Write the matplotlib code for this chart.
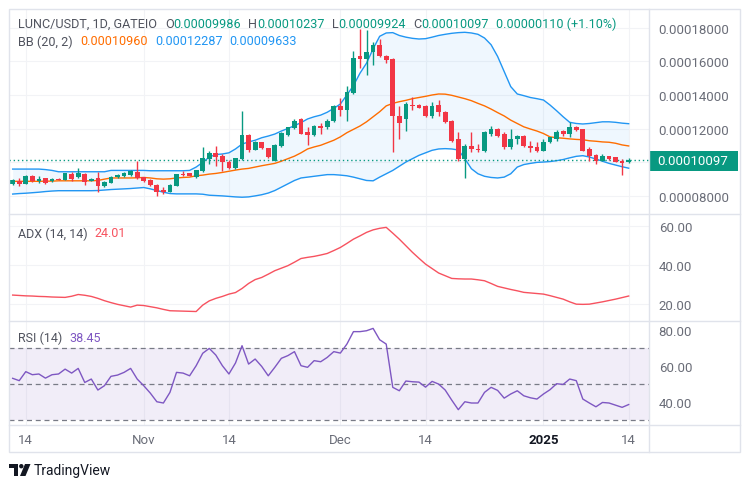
import matplotlib
matplotlib.use('Agg')
import matplotlib.pyplot as plt
import matplotlib.dates as mdates
from matplotlib.patches import Rectangle, Circle, Polygon
from matplotlib.lines import Line2D
import numpy as np
import pandas as pd

plt.rcParams['font.family'] = ['Roboto', 'DejaVu Sans']

# ---- data (prices in units of 1e-5 USDT) ----
dates = pd.date_range('2024-10-12', '2025-01-14', freq='D')

opens = [8.69, 8.88, 8.69, 9.15, 8.88, 9.02, 8.85, 9.00, 8.95, 9.30,
         9.09, 9.30, 8.88, 9.03, 8.55, 8.75, 9.10, 9.15, 9.20, 9.43,
         9.09, 8.95, 8.65, 8.35, 8.23, 8.60, 9.30, 9.32, 9.09, 9.48,
         10.18, 10.52, 10.38, 10.02, 9.64, 10.20, 11.60, 10.74, 11.18, 10.82,
         10.08, 10.97, 11.60, 12.02, 12.57, 11.80, 11.60, 12.15, 12.07, 12.47,
         13.32, 13.12, 14.12, 16.30, 16.15, 16.55, 16.96, 16.30, 16.14, 12.77,
         12.56, 13.40, 13.40, 13.32, 12.77, 13.40, 13.00, 12.47, 11.37, 10.18,
         10.97, 10.80, 10.68, 11.70, 12.00, 11.67, 10.88, 11.35, 11.53, 10.97,
         10.88, 10.68, 11.20, 11.37, 11.87, 11.67, 12.10, 11.97, 10.78, 10.42,
         10.08, 10.34, 10.28, 10.08, 9.986]
highs = [8.97, 9.03, 9.20, 9.20, 9.18, 9.05, 9.05, 9.02, 9.36, 9.43,
         9.63, 9.33, 9.02, 9.43, 8.86, 9.15, 9.30, 9.38, 9.55, 10.08,
         9.10, 8.97, 8.67, 8.49, 8.67, 9.30, 9.48, 9.35, 9.55, 10.88,
         10.68, 10.97, 10.48, 10.10, 10.25, 13.06, 11.65, 11.25, 11.22, 10.85,
         11.05, 11.80, 12.10, 12.55, 12.60, 12.07, 12.20, 12.30, 12.55, 13.40,
         13.85, 14.56, 16.65, 17.95, 17.90, 17.16, 17.33, 16.40, 16.18, 13.36,
         13.56, 13.90, 13.45, 13.38, 13.60, 13.70, 13.05, 12.50, 11.80, 11.07,
         11.80, 11.07, 11.87, 12.17, 12.05, 11.77, 12.00, 11.60, 11.60, 11.27,
         11.18, 11.37, 11.50, 11.93, 11.93, 12.40, 12.17, 12.00, 10.88, 10.48,
         10.48, 10.38, 10.32, 10.18, 10.237]
lows = [8.65, 8.55, 8.67, 8.82, 8.75, 8.70, 8.82, 8.93, 8.90, 8.88,
        9.03, 8.62, 8.85, 8.20, 8.50, 8.72, 9.05, 9.12, 9.15, 9.00,
        8.83, 8.60, 7.99, 8.09, 8.20, 8.58, 9.15, 9.15, 9.07, 9.38,
        9.88, 9.78, 9.48, 9.60, 9.60, 10.15, 10.60, 10.70, 10.78, 10.25,
        10.05, 10.90, 11.55, 11.98, 11.65, 11.00, 11.55, 11.70, 12.00, 12.40,
        12.75, 12.47, 14.05, 15.60, 15.20, 15.80, 16.27, 15.90, 10.62, 11.40,
        11.87, 13.12, 13.20, 12.70, 12.60, 12.77, 12.30, 11.20, 10.08, 9.03,
        10.60, 10.58, 10.62, 11.57, 11.50, 10.78, 10.78, 11.05, 10.90, 10.58,
        10.58, 10.65, 11.15, 11.27, 11.55, 11.47, 11.87, 10.65, 10.08, 9.88,
        10.04, 10.12, 9.98, 9.22, 9.924]
closes = [8.93, 8.69, 9.18, 8.85, 9.00, 8.75, 9.00, 8.95, 9.33, 9.00,
          9.35, 8.80, 9.00, 8.59, 8.83, 9.12, 9.20, 9.35, 9.48, 9.03,
          8.88, 8.63, 8.23, 8.23, 8.65, 9.28, 9.25, 9.18, 9.52, 10.22,
          10.52, 10.28, 10.02, 9.64, 10.22, 11.60, 10.74, 11.21, 10.82, 10.28,
          11.01, 11.73, 12.07, 12.47, 11.70, 11.60, 12.15, 12.05, 12.47, 13.32,
          13.12, 14.16, 16.19, 16.15, 16.55, 16.96, 16.33, 16.10, 12.77, 12.30,
          13.46, 13.32, 13.20, 12.77, 13.32, 13.00, 12.37, 11.27, 10.18, 10.97,
          10.75, 10.74, 11.77, 12.00, 11.57, 10.88, 11.37, 11.53, 10.97, 10.82,
          10.68, 11.20, 11.47, 11.80, 11.67, 12.07, 11.93, 10.68, 10.34, 10.08,
          10.34, 10.18, 10.02, 9.94, 10.097]

bb_upper = [9.58, 9.58, 9.58, 9.58, 9.58, 9.55, 9.50, 9.42, 9.42, 9.42,
            9.42, 9.42, 9.42, 9.42, 9.42, 9.50, 9.50, 9.50, 9.50, 9.50,
            9.50, 9.48, 9.48, 9.48, 9.48, 9.48, 9.48, 9.50, 9.70, 9.98,
            10.30, 10.45, 10.48, 10.55, 10.78, 11.07, 11.20, 11.30, 11.45, 11.55,
            11.67, 11.85, 12.00, 12.17, 12.35, 12.57, 12.70, 12.80, 12.97, 13.20,
            13.46, 14.00, 14.56, 15.30, 15.90, 16.75, 17.50, 17.70, 17.72, 17.55,
            17.45, 17.38, 17.34, 17.36, 17.45, 17.55, 17.62, 17.68, 17.72, 17.74,
            17.70, 17.62, 17.40, 17.00, 16.30, 15.40, 14.50, 14.06, 13.96, 13.85,
            13.78, 13.70, 13.40, 13.06, 12.70, 12.37, 12.30, 12.27, 12.30, 12.35,
            12.40, 12.40, 12.37, 12.32, 12.287]
bb_mid = [8.85, 8.85, 8.85, 8.85, 8.85, 8.86, 8.86, 8.88, 8.88, 8.88,
          8.88, 8.88, 8.88, 8.90, 8.98, 9.05, 9.05, 9.05, 9.05, 9.06,
          9.08, 9.05, 9.00, 8.98, 9.00, 9.05, 9.08, 9.10, 9.18, 9.22,
          9.28, 9.32, 9.38, 9.45, 9.52, 9.58, 9.62, 9.70, 9.78, 9.85,
          9.92, 10.05, 10.20, 10.35, 10.55, 10.78, 10.90, 11.00, 11.15, 11.30,
          11.50, 11.75, 11.95, 12.15, 12.40, 12.70, 13.00, 13.35, 13.50, 13.60,
          13.68, 13.78, 13.85, 13.92, 14.00, 14.06, 14.05, 13.98, 13.88, 13.78,
          13.66, 13.50, 13.35, 13.16, 12.95, 12.75, 12.50, 12.30, 12.10, 11.97,
          11.85, 11.70, 11.50, 11.45, 11.42, 11.38, 11.35, 11.33, 11.27, 11.24,
          11.20, 11.18, 11.12, 11.02, 10.96]
bb_lower = [8.09, 8.12, 8.14, 8.17, 8.20, 8.24, 8.27, 8.29, 8.29, 8.29,
            8.29, 8.29, 8.29, 8.30, 8.33, 8.36, 8.38, 8.40, 8.42, 8.45,
            8.48, 8.40, 8.30, 8.20, 8.12, 8.10, 8.10, 8.10, 8.10, 8.08,
            8.02, 8.00, 7.98, 7.95, 7.92, 7.90, 7.92, 7.98, 8.05, 8.15,
            8.30, 8.50, 8.70, 8.90, 9.05, 9.10, 9.15, 9.20, 9.25, 9.25,
            9.22, 9.18, 9.10, 9.00, 8.90, 8.88, 9.10, 9.30, 9.50, 9.75,
            10.00, 10.20, 10.40, 10.55, 10.70, 10.78, 10.80, 10.78, 10.72, 10.20,
            9.60, 9.30, 9.15, 9.08, 9.05, 9.10, 9.30, 9.70, 9.85, 9.92,
            9.98, 10.00, 10.03, 10.08, 10.15, 10.25, 10.34, 10.38, 10.30, 10.18,
            10.05, 9.92, 9.82, 9.72, 9.633]

adx = [24.5, 24.3, 24.1, 24.0, 23.8, 23.7, 23.5, 23.4, 23.3, 23.9,
       24.8, 24.4, 23.8, 22.8, 21.6, 20.6, 19.7, 19.0, 18.3, 19.3,
       19.1, 18.5, 17.9, 17.1, 16.4, 16.3, 16.2, 16.1, 16.0, 19.3,
       21.5, 22.8, 23.8, 25.0, 25.8, 27.9, 30.5, 32.5, 33.6, 35.3,
       37.1, 38.4, 39.7, 41.5, 43.4, 44.0, 44.5, 45.2, 46.0, 47.5,
       49.1, 51.2, 53.4, 55.1, 56.9, 58.2, 59.0, 59.5, 56.5, 53.4,
       50.0, 46.6, 43.5, 40.5, 38.2, 35.9, 34.5, 33.1, 32.9, 32.8,
       32.8, 32.4, 31.9, 30.5, 29.0, 28.2, 27.4, 26.7, 25.9, 25.6,
       25.3, 25.0, 24.2, 23.3, 22.4, 21.0, 19.8, 19.7, 19.8, 20.4,
       21.0, 21.7, 22.4, 23.2, 24.01]

rsi = [53.0, 51.7, 56.7, 55.0, 55.4, 53.1, 55.0, 55.4, 58.1, 55.9,
       58.5, 50.7, 52.6, 46.5, 48.9, 54.1, 54.8, 56.3, 58.5, 52.6,
       48.9, 44.8, 40.0, 39.3, 45.2, 56.3, 55.9, 54.4, 60.0, 66.9,
       69.6, 65.9, 60.0, 55.4, 61.5, 71.1, 60.9, 63.7, 59.6, 54.4,
       59.1, 64.1, 65.6, 67.8, 60.0, 59.1, 62.8, 62.2, 64.6, 67.8,
       67.0, 72.0, 78.9, 78.9, 79.4, 80.7, 74.4, 72.0, 48.0, 46.1,
       51.5, 51.1, 50.9, 48.1, 51.3, 49.8, 46.5, 40.9, 35.6, 40.0,
       39.3, 39.3, 45.2, 48.0, 46.3, 42.0, 44.3, 46.1, 43.3, 42.2,
       41.5, 44.3, 46.7, 50.0, 49.6, 52.6, 51.7, 41.5, 39.3, 37.2,
       39.6, 39.3, 38.1, 36.9, 38.45]

tick_dates = ['2024-10-14', '2024-11-01', '2024-11-14', '2024-12-01',
              '2024-12-14', '2025-01-01', '2025-01-14']
tick_labels = ['14', 'Nov', '14', 'Dec', '14', '2025', '14']

# ---- colours ----
UP = '#089981'
DOWN = '#f23645'
BLUE = '#2196f3'
ORANGE = '#ff6d00'
PURPLE = '#7e57c2'
GRAY = '#6a6d78'
LINE = '#e0e3eb'
GRID = '#f2f3f6'

W, H = 748, 489
fig = plt.figure(figsize=(W / 100, H / 100), dpi=100)


def rect(x0, y0, x1, y1):
    return [x0 / W, 1 - y1 / H, (x1 - x0) / W, (y1 - y0) / H]


ax_p = fig.add_axes(rect(9, 10, 649, 215))
ax_a = fig.add_axes(rect(9, 215, 649, 322), sharex=ax_p)
ax_r = fig.add_axes(rect(9, 322, 649, 426), sharex=ax_p)
ax_t = fig.add_axes(rect(9, 426, 649, 453), sharex=ax_p)

xs = mdates.date2num(dates)
txs = mdates.date2num(pd.to_datetime(tick_dates))
sc = 1e-5
o = np.array(opens) * sc
h = np.array(highs) * sc
l = np.array(lows) * sc
c = np.array(closes) * sc

for ax in (ax_p, ax_a, ax_r, ax_t):
    for s in ax.spines.values():
        s.set_visible(False)
    ax.set_facecolor('none')
    ax.tick_params(axis='x', bottom=False, labelbottom=False)
    ax.yaxis.tick_right()
    ax.tick_params(axis='y', length=0, pad=7, labelsize=9.5, labelcolor=GRAY)
    if ax is not ax_t:
        for tx in txs:
            ax.axvline(tx, color=GRID, lw=0.8, zorder=0)
ax_p.set_xlim(xs[0] - 0.56, xs[0] + 97.1)

# ---- price pane ----
ptick = np.array([8, 10, 12, 14, 16, 18]) * sc
for v in ptick:
    ax_p.axhline(v, color=GRID, lw=0.8, zorder=0)
ax_p.set_yticks(ptick)
ax_p.set_yticklabels(['0.00008000', '', '0.00012000', '0.00014000',
                      '0.00016000', '0.00018000'])
ax_p.set_ylim(6.9 * sc, 19.13 * sc)

up_ = np.array(bb_upper) * sc
lo_ = np.array(bb_lower) * sc
ax_p.fill_between(xs, lo_, up_, color=BLUE, alpha=0.07, lw=0, zorder=1)
ax_p.plot(xs, up_, color=BLUE, lw=1, zorder=2)
ax_p.plot(xs, lo_, color=BLUE, lw=1, zorder=2)
ax_p.plot(xs, np.array(bb_mid) * sc, color=ORANGE, lw=1, zorder=2)

cols = np.where(c >= o, UP, DOWN)
ax_p.vlines(xs, l, h, colors=cols, lw=1, zorder=3)
ax_p.bar(xs, np.maximum(np.abs(c - o), 0.03 * sc), bottom=np.minimum(o, c),
         width=0.72, color=cols, lw=0, zorder=4)
ax_p.axhline(c[-1], color=UP, lw=1, ls=(0, (1, 2)), zorder=2)

# ---- ADX pane ----
for v in [20, 40, 60]:
    ax_a.axhline(v, color=GRID, lw=0.8, zorder=0)
ax_a.plot(xs, adx, color='#f7525f', lw=1)
ax_a.set_ylim(11.1, 66.4)
ax_a.set_yticks([20, 40, 60])
ax_a.set_yticklabels(['20.00', '40.00', '60.00'])

# ---- RSI pane ----
ax_r.axhspan(30, 70, color=PURPLE, alpha=0.1, lw=0, zorder=0)
for v in [30, 50, 70]:
    ax_r.axhline(v, color='#787b86', lw=0.9, ls=(0, (4, 3)), zorder=1)
ax_r.plot(xs, rsi, color=PURPLE, lw=1, zorder=2)
ax_r.set_ylim(27.1, 84.8)
ax_r.set_yticks([40, 60, 80])
ax_r.set_yticklabels(['40.00', '60.00', '80.00'])

# ---- time axis ----
ax_t.set_yticks([])
ax_t.set_ylim(0, 1)
for tx, lab in zip(txs, tick_labels):
    bold = lab == '2025'
    ax_t.text(tx, 0.45, lab, ha='center', va='center', fontsize=9.5,
              color='#131722' if bold else GRAY,
              fontweight='bold' if bold else 'normal')

# ---- frame and separators ----
fig.add_artist(Rectangle((9 / W, 1 - 453 / H), 731 / W, 443 / H,
                         transform=fig.transFigure, fill=False,
                         ec=LINE, lw=1))
for yy in (215, 322, 426):
    fig.add_artist(Line2D([9 / W, 740 / W], [1 - yy / H] * 2, color=LINE, lw=1))
fig.add_artist(Line2D([649 / W] * 2, [1 - 10 / H, 1 - 453 / H], color=LINE, lw=1))

# current price badge
fig.add_artist(Rectangle((649 / W, 1 - 172 / H), 89 / W, 20 / H,
                         transform=fig.transFigure, color=UP, lw=0))
fig.text(693 / W, 1 - 162 / H, '0.00010097', color='white', fontsize=9.5,
         ha='center', va='center')

# ---- legends ----
rend = fig.canvas.get_renderer()


def text_row(x, y, parts, size=9.1):
    for s, col, gap in parts:
        t = fig.text(x / W, 1 - y / H, s, color=col, fontsize=size,
                     ha='left', va='center')
        x += t.get_window_extent(renderer=rend).width + gap


TXT = '#50535e'
text_row(18, 24, [('LUNC/USDT, 1D, GATEIO', TXT, 8),
                  ('O', TXT, 0), ('0.00009986', UP, 7),
                  ('H', TXT, 0), ('0.00010237', UP, 7),
                  ('L', TXT, 0), ('0.00009924', UP, 7),
                  ('C', TXT, 0), ('0.00010097', UP, 7),
                  ('0.00000110 (+1.10%)', UP, 0)])
text_row(18, 42, [('BB (20, 2)', TXT, 8),
                  ('0.00010960', ORANGE, 7),
                  ('0.00012287', BLUE, 7),
                  ('0.00009633', BLUE, 0)])
text_row(18, 234, [('ADX (14, 14)', TXT, 7), ('24.01', '#f7525f', 0)], size=9)
text_row(18, 338, [('RSI (14)', TXT, 7), ('38.45', PURPLE, 0)], size=9)

# ---- TradingView logo ----
lg = fig.add_axes(rect(9, 464, 31, 478))
lg.set_xlim(0, 22)
lg.set_ylim(14, 0)
lg.axis('off')
lg.add_patch(Rectangle((0, 1), 9, 4, color='#131722', lw=0))
lg.add_patch(Rectangle((4.5, 1), 4.5, 12, color='#131722', lw=0))
lg.add_patch(Circle((12.3, 3.2), 2.2, color='#131722', lw=0))
lg.add_patch(Polygon([(16, 1), (21.5, 1), (16.5, 13), (11, 13)],
                     color='#131722', lw=0))
fig.text(34 / W, 1 - 471 / H, 'TradingView', color='#131722', fontsize=10,
         ha='left', va='center')

fig.savefig('out.png', dpi=100)
